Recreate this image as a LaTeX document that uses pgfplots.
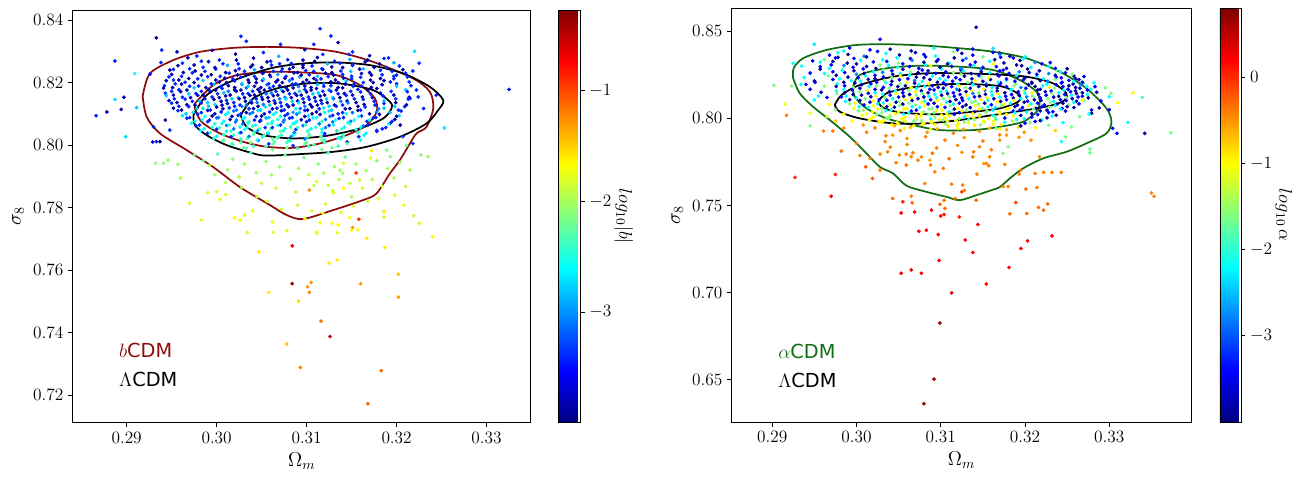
\RequirePackage{fix-cm}
\documentclass[border=0pt]{standalone}
\usepackage{pgfplots}
\pgfplotsset{compat=1.18}
\usepackage{fontspec}
\newfontfamily\dejavu{DejaVu Sans}
\definecolor{bred}{RGB}{140,12,12}
\definecolor{agreen}{RGB}{18,110,18}
\begin{document}
\begin{tikzpicture}
\useasboundingbox (0,0) rectangle (975pt,-361.5pt);
\pgfplotsset{
  myax/.style={
    scale only axis, scaled ticks=false,
    tick align=outside, tick pos=left, major tick length=3.5pt,
    axis line style={line width=0.7pt},
    every tick/.style={black, line width=0.7pt},
    tick label style={font=\fontsize{13}{15}\selectfont},
    label style={font=\fontsize{15}{17}\selectfont},
    xlabel={$\Omega_m$}, ylabel={$\sigma_8$},
    xtick={0.29,0.30,0.31,0.32,0.33},
    xticklabel style={/pgf/number format/fixed,/pgf/number format/fixed zerofill,/pgf/number format/precision=2},
    yticklabel style={/pgf/number format/fixed,/pgf/number format/fixed zerofill,/pgf/number format/precision=2},
    colormap/jet, colorbar,
  },
  myscat/.style={scatter, only marks, mark=*, mark size=1.2pt, point meta=explicit,
    scatter/use mapped color={draw=mapped color, fill=mapped color}},
}
% ================= LEFT PANEL =================
\begin{axis}[myax,
  at={(54.5pt,-317pt)}, anchor=south west, width=343.5pt, height=309.5pt,
  xmin=0.2840, xmax=0.3349, ymin=0.71125, ymax=0.8432,
  ytick={0.72,0.74,0.76,0.78,0.80,0.82,0.84},
  point meta min=-4, point meta max=-0.27,
  colorbar style={at={(parent axis.north east)}, anchor=north west, xshift=12.5pt,
    width=16pt, ytick={-3,-2,-1}, ytick pos=right, tick align=outside, major tick length=3.5pt,
    yticklabel style={font=\fontsize{13}{15}\selectfont},
    ylabel={$log_{10}|b|$},
    ylabel style={rotate=180, at={(axis description cs:3.05,0.5)}, anchor=center, font=\fontsize{14}{16}\selectfont}},
]
\addplot[myscat] coordinates {
(0.3219,0.7774)[-1.9] (0.3225,0.7750)[-1.8] (0.3240,0.7707)[-1.65] (0.3187,0.7673)[-1.6] (0.3167,0.7702)[-1.6]
(0.3084,0.7678)[-0.7] (0.3047,0.7659)[-1.6] (0.3125,0.7623)[-1.6] (0.3134,0.7633)[-1.6] (0.3202,0.7587)[-1.45]
(0.3084,0.7557)[-0.35] (0.3105,0.7561)[-1.3] (0.3101,0.7547)[-1.3] (0.3103,0.7529)[-1.25] (0.3058,0.7529)[-1.6]
(0.3091,0.7501)[-1.55] (0.3160,0.7557)[-1.3] (0.3202,0.7514)[-1.3] (0.3116,0.7437)[-1.15] (0.3126,0.7388)[-0.55]
(0.3078,0.7364)[-1.45] (0.3093,0.7289)[-1.2] (0.3183,0.7279)[-1.15] (0.3168,0.7173)[-1.1] (0.3158,0.7763)[-0.9]
(0.3151,0.7736)[-1.25] (0.3150,0.7729)[-1.65] (0.3157,0.7729)[-1.65] (0.3115,0.7752)[-1.7] (0.3134,0.7720)[-1.8]
(0.3111,0.7718)[-1.8] (0.3078,0.7727)[-1.8] (0.3063,0.7721)[-1.8] (0.3034,0.7720)[-1.85] (0.3186,0.7787)[-1.65]
(0.3186,0.7770)[-1.85]
(0.2866,0.8094)[-3.4] (0.2878,0.8106)[-3.85] (0.2887,0.8269)[-3.4] (0.2887,0.8146)[-2.7] (0.2894,0.8114)[-3.85]
(0.2897,0.8153)[-3.8] (0.2899,0.8027)[-2.7] (0.2909,0.8229)[-2.5] (0.2911,0.8120)[-2.8] (0.2933,0.8343)[-3.85]
(0.2939,0.8304)[-3.4] (0.2938,0.8264)[-3.4] (0.2926,0.8227)[-3.5] (0.2930,0.8058)[-3.4] (0.2933,0.8011)[-3.4]
(0.2929,0.8010)[-3.8] (0.2937,0.8011)[-3.85] (0.2932,0.7942)[-2.1] (0.2941,0.7942)[-2.1] (0.2946,0.7952)[-2.05]
(0.2957,0.7938)[-2.05] (0.2960,0.7895)[-2.0] (0.2970,0.7814)[-1.85] (0.2983,0.7760)[-1.8] (0.2956,0.8298)[-3.85]
(0.2948,0.8240)[-3.85] (0.2952,0.8208)[-3.4] (0.2943,0.8080)[-3.8] (0.2948,0.8048)[-3.4] (0.2990,0.7848)[-1.8]
(0.3000,0.7851)[-1.85] (0.3004,0.7827)[-1.8] (0.3010,0.7842)[-1.85] (0.3020,0.7768)[-1.65] (0.3026,0.7760)[-1.75]
(0.3031,0.7776)[-1.8] (0.3103,0.7856)[-1.25] (0.3027,0.8348)[-3.4] (0.3033,0.8332)[-3.4] (0.3071,0.8322)[-3.4]
(0.3115,0.8372)[-3.4]
(0.3127,0.8349)[-3.4] (0.3135,0.8328)[-3.85] (0.3108,0.8322)[-3.4] (0.3147,0.8290)[-3.4] (0.3191,0.8279)[-3.4]
(0.3220,0.8300)[-2.7] (0.3225,0.8262)[-3.4] (0.3218,0.8237)[-3.4] (0.3200,0.8224)[-3.4] (0.3193,0.8202)[-3.5]
(0.3222,0.8176)[-3.4] (0.3224,0.8154)[-3.4] (0.3215,0.8149)[-3.4] (0.3244,0.8160)[-3.4] (0.3325,0.8178)[-3.5]
(0.3253,0.8055)[-2.7] (0.3230,0.8117)[-3.4] (0.3204,0.8064)[-3.85] (0.3218,0.8005)[-3.4] (0.3207,0.8027)[-3.3]
(0.3227,0.7969)[-2.1] (0.3235,0.7963)[-2.05] (0.3211,0.7999)[-2.2] (0.3189,0.7984)[-2.15] (0.3193,0.7963)[-2.1]
(0.3172,0.7982)[-1.6] (0.3171,0.7959)[-1.8] (0.3141,0.7942)[-1.85] (0.3131,0.7931)[-2.0] (0.3155,0.7911)[-0.95]
(0.3140,0.7910)[-2.05] (0.3137,0.7920)[-2.0] (0.3159,0.7888)[-1.85] (0.3150,0.7835)[-2.0] (0.3141,0.7862)[-1.65]
(0.3130,0.7848)[-1.8] (0.3111,0.7883)[-1.8] (0.3124,0.7872)[-1.9] (0.3186,0.7788)[-1.6] (0.3111,0.7722)[-1.65]
(0.3135,0.7745)[-1.65] (0.3118,0.7782)[-1.7]
(0.2975,0.7968)[-2.2] (0.2992,0.7935)[-2.0] (0.3001,0.7972)[-2.3] (0.3012,0.7921)[-2.0] (0.3018,0.7955)[-2.1]
(0.3025,0.7898)[-1.95] (0.3031,0.7940)[-2.05] (0.3038,0.7975)[-2.3] (0.3044,0.7912)[-2.0] (0.3050,0.7878)[-1.9]
(0.3055,0.7948)[-2.1] (0.3061,0.7905)[-2.0] (0.3066,0.7862)[-1.85] (0.3070,0.7930)[-2.05] (0.3076,0.7968)[-2.25]
(0.3082,0.7891)[-1.95] (0.3088,0.7850)[-1.9] (0.3091,0.7925)[-2.0] (0.3097,0.7960)[-2.2] (0.3102,0.7905)[-1.95]
(0.3108,0.7871)[-1.9] (0.3113,0.7940)[-2.1] (0.3119,0.7910)[-2.0] (0.3124,0.7975)[-2.3] (0.3129,0.7855)[-1.85]
(0.3136,0.7890)[-1.95] (0.3143,0.7962)[-2.2] (0.3148,0.7878)[-1.9] (0.3155,0.7940)[-2.05] (0.3162,0.7862)[-1.85]
(0.3166,0.7918)[-2.0] (0.3173,0.7890)[-1.9] (0.3178,0.7950)[-2.1] (0.3184,0.7868)[-1.85] (0.3190,0.7925)[-2.0]
(0.3197,0.7895)[-1.95] (0.3204,0.7945)[-2.05] (0.3210,0.7868)[-1.9] (0.3215,0.7920)[-2.0] (0.3056,0.7820)[-1.85]
(0.3072,0.7795)[-1.8] (0.3090,0.7808)[-1.85] (0.3106,0.7790)[-1.8] (0.3121,0.7812)[-1.85] (0.3138,0.7785)[-1.75]
(0.3152,0.7805)[-1.8] (0.3168,0.7820)[-1.85] (0.3045,0.7835)[-1.9] (0.3028,0.7865)[-1.95] (0.3010,0.7880)[-1.95]
(0.2998,0.7905)[-2.0] (0.2985,0.7950)[-2.15] (0.3180,0.7830)[-1.8] (0.3198,0.7840)[-1.8] (0.3208,0.7808)[-1.75]
(0.3062,0.7755)[-1.7] (0.3098,0.7765)[-1.75] (0.3128,0.7750)[-1.7] (0.3040,0.7790)[-1.8] (0.3148,0.7768)[-1.7]
(0.2995,0.8303)[-3.85] (0.3052,0.8296)[-3.4] (0.3098,0.8305)[-3.85] (0.3151,0.8298)[-3.4]
(0.2978,0.8285)[-3.4] (0.3021,0.8291)[-3.85] (0.3069,0.8284)[-2.9] (0.3118,0.8290)[-3.4] (0.3170,0.8286)[-3.85]
(0.2968,0.8279)[-3.85] (0.3003,0.8272)[-3.4] (0.3041,0.8278)[-3.85] (0.3079,0.8273)[-3.4] (0.3112,0.8280)[-3.85] (0.3148,0.8274)[-2.9] (0.3186,0.8277)[-3.4]
(0.2962,0.8262)[-3.4] (0.2991,0.8267)[-3.85] (0.3024,0.8260)[-3.4] (0.3056,0.8266)[-3.85] (0.3083,0.8261)[-3.4] (0.3109,0.8268)[-3.85] (0.3137,0.8262)[-3.4] (0.3165,0.8266)[-3.85] (0.3197,0.8263)[-2.9]
(0.2957,0.8254)[-3.85] (0.2985,0.8249)[-3.4] (0.3012,0.8255)[-2.9] (0.3038,0.8250)[-3.85] (0.3061,0.8256)[-3.4] (0.3085,0.8249)[-3.85] (0.3106,0.8253)[-3.4] (0.3128,0.8250)[-3.85] (0.3151,0.8255)[-3.4] (0.3175,0.8249)[-3.85] (0.3203,0.8253)[-3.4]
(0.2952,0.8242)[-3.4] (0.2976,0.8237)[-3.85] (0.2999,0.8243)[-3.4] (0.3021,0.8238)[-3.85] (0.3042,0.8241)[-2.9] (0.3063,0.8236)[-3.4] (0.3081,0.8243)[-3.85] (0.3099,0.8238)[-3.4] (0.3118,0.8242)[-3.85] (0.3138,0.8237)[-3.4] (0.3159,0.8243)[-3.85] (0.3182,0.8239)[-3.4] (0.3207,0.8241)[-3.85]
(0.2950,0.8226)[-3.85] (0.2973,0.8231)[-3.4] (0.2994,0.8225)[-3.85] (0.3014,0.8230)[-3.4] (0.3033,0.8224)[-3.85] (0.3051,0.8229)[-3.4] (0.3068,0.8226)[-2.9] (0.3086,0.8231)[-3.85] (0.3103,0.8225)[-3.4] (0.3121,0.8230)[-3.85] (0.3140,0.8226)[-3.4] (0.3161,0.8229)[-3.85] (0.3184,0.8225)[-3.4] (0.3210,0.8230)[-3.4]
(0.2947,0.8218)[-3.4] (0.2969,0.8213)[-3.85] (0.2990,0.8219)[-3.4] (0.3009,0.8214)[-3.85] (0.3027,0.8217)[-3.4] (0.3044,0.8212)[-3.85] (0.3060,0.8219)[-3.4] (0.3076,0.8214)[-3.85] (0.3092,0.8218)[-2.9] (0.3108,0.8213)[-3.85] (0.3124,0.8219)[-3.4] (0.3141,0.8214)[-3.85] (0.3160,0.8217)[-3.4] (0.3182,0.8213)[-3.85] (0.3212,0.8218)[-3.4]
(0.2944,0.8206)[-3.85] (0.2965,0.8201)[-3.4] (0.2985,0.8207)[-2.8] (0.3003,0.8202)[-3.85] (0.3020,0.8205)[-3.4] (0.3036,0.8200)[-3.85] (0.3051,0.8207)[-3.4] (0.3066,0.8202)[-3.85] (0.3081,0.8206)[-3.1] (0.3096,0.8201)[-3.85] (0.3111,0.8207)[-3.4] (0.3127,0.8202)[-3.85] (0.3144,0.8205)[-2.8] (0.3163,0.8200)[-3.4] (0.3186,0.8206)[-3.85] (0.3214,0.8202)[-3.4]
(0.2942,0.8190)[-3.4] (0.2961,0.8195)[-3.85] (0.2980,0.8189)[-3.4] (0.2997,0.8194)[-2.8] (0.3013,0.8190)[-3.85] (0.3028,0.8195)[-3.4] (0.3042,0.8188)[-3.85] (0.3056,0.8193)[-3.1] (0.3070,0.8190)[-3.85] (0.3084,0.8195)[-3.4] (0.3098,0.8189)[-3.85] (0.3112,0.8194)[-2.8] (0.3127,0.8190)[-3.4] (0.3143,0.8195)[-3.85] (0.3161,0.8189)[-3.4] (0.3184,0.8193)[-3.85] (0.3216,0.8190)[-3.4]
(0.2941,0.8182)[-3.85] (0.2958,0.8177)[-3.4] (0.2975,0.8183)[-2.8] (0.2991,0.8178)[-3.85] (0.3006,0.8181)[-3.4] (0.3020,0.8176)[-3.85] (0.3033,0.8183)[-3.1] (0.3046,0.8178)[-3.85] (0.3059,0.8182)[-3.4] (0.3072,0.8177)[-2.8] (0.3085,0.8183)[-3.85] (0.3098,0.8178)[-3.4] (0.3111,0.8181)[-3.85] (0.3125,0.8176)[-3.1] (0.3140,0.8183)[-3.85] (0.3157,0.8178)[-3.4] (0.3178,0.8181)[-3.85] (0.3210,0.8177)[-2.8]
(0.2943,0.8166)[-3.4] (0.2960,0.8171)[-3.85] (0.2977,0.8165)[-3.4] (0.2993,0.8170)[-3.85] (0.3008,0.8167)[-2.8] (0.3022,0.8172)[-3.85] (0.3035,0.8165)[-3.4] (0.3048,0.8170)[-3.85] (0.3061,0.8166)[-3.1] (0.3074,0.8171)[-3.85] (0.3087,0.8165)[-3.4] (0.3100,0.8170)[-3.85] (0.3113,0.8167)[-2.8] (0.3127,0.8172)[-3.4] (0.3142,0.8165)[-3.85] (0.3160,0.8170)[-3.4] (0.3182,0.8166)[-3.85] (0.3212,0.8171)[-3.4]
(0.2944,0.8158)[-2.8] (0.2962,0.8153)[-3.4] (0.2979,0.8159)[-3.85] (0.2995,0.8154)[-3.4] (0.3010,0.8157)[-3.85] (0.3024,0.8152)[-2.8] (0.3037,0.8159)[-3.85] (0.3050,0.8154)[-3.4] (0.3063,0.8158)[-3.85] (0.3076,0.8153)[-3.1] (0.3089,0.8159)[-3.85] (0.3102,0.8154)[-3.4] (0.3115,0.8157)[-3.85] (0.3129,0.8152)[-2.8] (0.3144,0.8159)[-3.4] (0.3162,0.8154)[-3.85] (0.3185,0.8157)[-3.4] (0.3214,0.8153)[-3.85]
(0.2947,0.8142)[-3.85] (0.2965,0.8147)[-3.4] (0.2981,0.8141)[-2.8] (0.2997,0.8146)[-3.85] (0.3011,0.8143)[-3.4] (0.3025,0.8148)[-3.85] (0.3038,0.8141)[-3.1] (0.3051,0.8146)[-3.85] (0.3064,0.8142)[-3.4] (0.3077,0.8147)[-2.7] (0.3090,0.8141)[-3.85] (0.3103,0.8146)[-3.4] (0.3116,0.8143)[-3.85] (0.3130,0.8148)[-3.1] (0.3145,0.8141)[-3.85] (0.3163,0.8146)[-3.4] (0.3186,0.8142)[-2.8] (0.3213,0.8147)[-3.4]
(0.2950,0.8134)[-3.4] (0.2967,0.8129)[-3.85] (0.2983,0.8135)[-3.4] (0.2998,0.8130)[-2.7] (0.3012,0.8133)[-3.85] (0.3026,0.8128)[-3.4] (0.3039,0.8135)[-3.85] (0.3052,0.8130)[-3.1] (0.3065,0.8134)[-3.85] (0.3078,0.8129)[-3.4] (0.3091,0.8135)[-2.7] (0.3104,0.8130)[-3.85] (0.3117,0.8133)[-3.4] (0.3131,0.8128)[-3.85] (0.3146,0.8135)[-3.1] (0.3164,0.8130)[-3.85] (0.3186,0.8133)[-3.4] (0.3211,0.8129)[-3.85]
(0.2952,0.8118)[-3.85] (0.2969,0.8123)[-3.4] (0.2985,0.8117)[-2.7] (0.3000,0.8122)[-3.85] (0.3014,0.8119)[-3.4] (0.3028,0.8124)[-3.1] (0.3041,0.8117)[-3.85] (0.3054,0.8122)[-2.7] (0.3067,0.8118)[-3.4] (0.3080,0.8123)[-3.85] (0.3093,0.8117)[-3.1] (0.3106,0.8122)[-3.85] (0.3119,0.8119)[-2.7] (0.3133,0.8124)[-3.4] (0.3148,0.8117)[-3.85] (0.3165,0.8122)[-3.4] (0.3186,0.8118)[-2.8] (0.3209,0.8123)[-3.4]
(0.2957,0.8110)[-3.4] (0.2974,0.8105)[-2.7] (0.2990,0.8111)[-3.85] (0.3005,0.8106)[-3.4] (0.3019,0.8109)[-3.1] (0.3033,0.8104)[-3.85] (0.3046,0.8111)[-2.7] (0.3059,0.8106)[-3.4] (0.3072,0.8110)[-3.85] (0.3085,0.8105)[-2.9] (0.3098,0.8111)[-3.4] (0.3111,0.8106)[-3.85] (0.3125,0.8109)[-2.7] (0.3140,0.8104)[-3.4] (0.3157,0.8111)[-3.85] (0.3178,0.8106)[-3.1] (0.3205,0.8109)[-3.4]
(0.2962,0.8094)[-2.7] (0.2979,0.8099)[-3.4] (0.2995,0.8093)[-3.85] (0.3010,0.8098)[-2.6] (0.3024,0.8095)[-3.4] (0.3037,0.8100)[-3.1] (0.3050,0.8093)[-3.85] (0.3063,0.8098)[-2.6] (0.3076,0.8094)[-3.4] (0.3089,0.8099)[-3.1] (0.3102,0.8093)[-2.7] (0.3115,0.8098)[-3.85] (0.3129,0.8095)[-3.4] (0.3144,0.8100)[-2.6] (0.3161,0.8093)[-3.4] (0.3181,0.8098)[-3.85] (0.3203,0.8094)[-2.7]
(0.2967,0.8086)[-3.4] (0.2984,0.8081)[-2.6] (0.3000,0.8087)[-3.1] (0.3015,0.8082)[-3.85] (0.3029,0.8085)[-2.6] (0.3042,0.8080)[-3.4] (0.3055,0.8087)[-2.9] (0.3068,0.8082)[-2.5] (0.3081,0.8086)[-3.4] (0.3094,0.8081)[-3.85] (0.3107,0.8087)[-2.6] (0.3121,0.8082)[-3.1] (0.3136,0.8085)[-3.4] (0.3153,0.8080)[-2.6] (0.3174,0.8087)[-3.4] (0.3198,0.8082)[-3.85]
(0.2972,0.8070)[-2.6] (0.2990,0.8075)[-3.4] (0.3006,0.8069)[-2.5] (0.3021,0.8074)[-3.1] (0.3035,0.8071)[-2.6] (0.3048,0.8076)[-3.85] (0.3061,0.8069)[-2.5] (0.3074,0.8074)[-3.1] (0.3087,0.8070)[-2.6] (0.3100,0.8075)[-3.4] (0.3114,0.8069)[-2.5] (0.3129,0.8074)[-3.1] (0.3146,0.8071)[-2.6] (0.3167,0.8076)[-3.4] (0.3193,0.8070)[-3.85]
(0.2977,0.8062)[-3.4] (0.2995,0.8057)[-2.5] (0.3011,0.8063)[-3.1] (0.3026,0.8058)[-2.6] (0.3040,0.8061)[-2.4] (0.3054,0.8056)[-3.4] (0.3068,0.8063)[-2.6] (0.3082,0.8058)[-2.4] (0.3096,0.8062)[-3.1] (0.3110,0.8057)[-2.5] (0.3125,0.8063)[-3.4] (0.3142,0.8058)[-2.6] (0.3163,0.8061)[-3.1] (0.3188,0.8056)[-3.4]
(0.2982,0.8046)[-2.6] (0.3000,0.8051)[-3.4] (0.3016,0.8045)[-2.4] (0.3031,0.8050)[-2.6] (0.3046,0.8047)[-3.1] (0.3060,0.8052)[-2.4] (0.3074,0.8045)[-2.6] (0.3088,0.8050)[-3.4] (0.3102,0.8046)[-2.4] (0.3117,0.8051)[-2.6] (0.3134,0.8045)[-3.1] (0.3155,0.8050)[-2.5] (0.3178,0.8047)[-3.4]
(0.2990,0.8038)[-3.4] (0.3008,0.8033)[-2.4] (0.3025,0.8039)[-2.6] (0.3041,0.8034)[-2.3] (0.3057,0.8037)[-3.1] (0.3072,0.8032)[-2.4] (0.3087,0.8039)[-2.6] (0.3103,0.8034)[-2.3] (0.3120,0.8037)[-3.4] (0.3140,0.8032)[-2.5] (0.3166,0.8038)[-2.6]
(0.2997,0.8022)[-2.5] (0.3016,0.8027)[-3.4] (0.3034,0.8021)[-2.3] (0.3051,0.8026)[-2.5] (0.3067,0.8023)[-2.3] (0.3083,0.8028)[-3.1] (0.3099,0.8021)[-2.4] (0.3116,0.8026)[-2.3] (0.3135,0.8023)[-2.6] (0.3158,0.8027)[-3.4]
(0.3007,0.8014)[-2.4] (0.3027,0.8009)[-2.3] (0.3046,0.8015)[-3.4] (0.3064,0.8010)[-2.3] (0.3082,0.8013)[-2.4] (0.3100,0.8008)[-2.3] (0.3120,0.8015)[-2.5] (0.3145,0.8010)[-3.4]
(0.3018,0.8002)[-2.3] (0.3041,0.7997)[-2.4] (0.3063,0.8003)[-2.2] (0.3085,0.7998)[-3.4] (0.3108,0.8001)[-2.3] (0.3135,0.7997)[-2.4]
(0.3033,0.7990)[-2.3] (0.3062,0.7985)[-2.2] (0.3090,0.7989)[-2.3] (0.3117,0.7986)[-2.2]
};
\addplot[myscat] coordinates {
(0.2983,0.8268)[-3.4] (0.3022,0.8272)[-3.85] (0.3060,0.8268)[-3.4] (0.3096,0.8272)[-3.85] (0.3131,0.8268)[-3.4] (0.3168,0.8272)[-3.85]
(0.2975,0.8256)[-3.85] (0.3007,0.8260)[-3.4] (0.3040,0.8256)[-3.85] (0.3070,0.8260)[-3.4] (0.3096,0.8256)[-3.85] (0.3123,0.8260)[-2.8] (0.3151,0.8256)[-3.4] (0.3181,0.8260)[-3.85]
(0.2970,0.8244)[-3.4] (0.2998,0.8248)[-3.85] (0.3025,0.8244)[-3.4] (0.3050,0.8248)[-3.85] (0.3073,0.8244)[-3.4] (0.3096,0.8248)[-3.85] (0.3117,0.8244)[-3.4] (0.3140,0.8248)[-3.85] (0.3163,0.8244)[-2.8] (0.3189,0.8248)[-3.4]
(0.2963,0.8232)[-3.85] (0.2987,0.8236)[-3.4] (0.3010,0.8232)[-3.85] (0.3031,0.8236)[-3.4] (0.3052,0.8232)[-3.85] (0.3072,0.8236)[-3.4] (0.3090,0.8232)[-3.85] (0.3108,0.8236)[-3.4] (0.3128,0.8232)[-3.85] (0.3149,0.8236)[-2.8] (0.3170,0.8232)[-3.85] (0.3195,0.8236)[-3.4]
(0.2961,0.8220)[-3.4] (0.2983,0.8224)[-3.85] (0.3004,0.8220)[-3.4] (0.3023,0.8224)[-3.85] (0.3042,0.8220)[-3.4] (0.3059,0.8224)[-3.85] (0.3077,0.8220)[-3.4] (0.3094,0.8224)[-3.85] (0.3112,0.8220)[-2.8] (0.3130,0.8224)[-3.85] (0.3150,0.8220)[-3.4] (0.3172,0.8224)[-3.85] (0.3197,0.8220)[-3.4]
(0.2958,0.8208)[-3.85] (0.2979,0.8212)[-3.4] (0.2999,0.8208)[-3.85] (0.3018,0.8212)[-3.4] (0.3035,0.8208)[-3.85] (0.3052,0.8212)[-2.8] (0.3068,0.8208)[-3.85] (0.3084,0.8212)[-3.4] (0.3100,0.8208)[-3.85] (0.3116,0.8212)[-3.4] (0.3132,0.8208)[-3.85] (0.3150,0.8212)[-3.4] (0.3171,0.8208)[-3.85] (0.3197,0.8212)[-3.4]
(0.2954,0.8196)[-3.4] (0.2975,0.8200)[-3.85] (0.2994,0.8196)[-3.4] (0.3011,0.8200)[-3.85] (0.3028,0.8196)[-2.8] (0.3044,0.8200)[-3.85] (0.3058,0.8196)[-3.4] (0.3073,0.8200)[-3.85] (0.3088,0.8196)[-3.4] (0.3103,0.8200)[-3.85] (0.3119,0.8196)[-3.1] (0.3135,0.8200)[-3.85] (0.3153,0.8196)[-3.4] (0.3174,0.8200)[-3.85] (0.3200,0.8196)[-3.4]
(0.2951,0.8184)[-3.85] (0.2970,0.8188)[-3.4] (0.2988,0.8184)[-3.85] (0.3005,0.8188)[-3.4] (0.3020,0.8184)[-3.85] (0.3035,0.8188)[-2.8] (0.3049,0.8184)[-3.85] (0.3063,0.8188)[-3.4] (0.3077,0.8184)[-3.85] (0.3091,0.8188)[-3.1] (0.3105,0.8184)[-3.85] (0.3119,0.8188)[-3.4] (0.3135,0.8184)[-3.85] (0.3152,0.8188)[-3.4] (0.3172,0.8184)[-3.85] (0.3200,0.8188)[-2.8]
(0.2950,0.8172)[-3.4] (0.2967,0.8176)[-3.85] (0.2983,0.8172)[-3.4] (0.2999,0.8176)[-3.85] (0.3013,0.8172)[-3.1] (0.3027,0.8176)[-3.85] (0.3040,0.8172)[-3.4] (0.3053,0.8176)[-3.85] (0.3066,0.8172)[-3.4] (0.3079,0.8176)[-3.85] (0.3092,0.8172)[-2.8] (0.3105,0.8176)[-3.85] (0.3118,0.8172)[-3.4] (0.3133,0.8176)[-3.85] (0.3149,0.8172)[-3.4] (0.3168,0.8176)[-3.85] (0.3194,0.8172)[-3.4]
(0.2952,0.8160)[-3.85] (0.2969,0.8164)[-2.8] (0.2985,0.8160)[-3.85] (0.3001,0.8164)[-3.4] (0.3015,0.8160)[-3.85] (0.3029,0.8164)[-3.4] (0.3042,0.8160)[-3.85] (0.3055,0.8164)[-3.1] (0.3068,0.8160)[-3.85] (0.3081,0.8164)[-3.4] (0.3094,0.8160)[-3.85] (0.3107,0.8164)[-2.8] (0.3120,0.8160)[-3.85] (0.3135,0.8164)[-3.4] (0.3151,0.8160)[-3.85] (0.3171,0.8164)[-3.4] (0.3197,0.8160)[-3.85]
(0.2953,0.8148)[-3.4] (0.2971,0.8152)[-3.85] (0.2987,0.8148)[-3.4] (0.3003,0.8152)[-3.85] (0.3017,0.8148)[-2.8] (0.3031,0.8152)[-3.85] (0.3044,0.8148)[-3.4] (0.3057,0.8152)[-3.85] (0.3070,0.8148)[-3.1] (0.3083,0.8152)[-3.85] (0.3096,0.8148)[-3.4] (0.3109,0.8152)[-3.85] (0.3122,0.8148)[-2.8] (0.3137,0.8152)[-3.85] (0.3153,0.8148)[-3.4] (0.3173,0.8152)[-3.85] (0.3199,0.8148)[-3.4]
(0.2956,0.8136)[-3.85] (0.2973,0.8140)[-3.4] (0.2990,0.8136)[-2.8] (0.3005,0.8140)[-3.85] (0.3019,0.8136)[-3.4] (0.3032,0.8140)[-3.85] (0.3045,0.8136)[-3.1] (0.3058,0.8140)[-3.85] (0.3071,0.8136)[-3.4] (0.3084,0.8140)[-2.8] (0.3097,0.8136)[-3.85] (0.3110,0.8140)[-3.4] (0.3123,0.8136)[-3.85] (0.3138,0.8140)[-3.1] (0.3155,0.8136)[-3.85] (0.3175,0.8140)[-3.4] (0.3199,0.8136)[-3.85]
(0.2958,0.8124)[-3.4] (0.2976,0.8128)[-3.85] (0.2991,0.8124)[-2.8] (0.3006,0.8128)[-3.85] (0.3020,0.8124)[-3.4] (0.3033,0.8128)[-3.1] (0.3046,0.8124)[-3.85] (0.3059,0.8128)[-2.8] (0.3072,0.8124)[-3.4] (0.3085,0.8128)[-3.85] (0.3098,0.8124)[-3.1] (0.3112,0.8128)[-3.85] (0.3125,0.8124)[-2.8] (0.3140,0.8128)[-3.4] (0.3157,0.8124)[-3.85] (0.3176,0.8128)[-3.4] (0.3198,0.8124)[-2.8]
(0.2961,0.8112)[-3.85] (0.2978,0.8116)[-2.8] (0.2993,0.8112)[-3.4] (0.3007,0.8116)[-3.85] (0.3022,0.8112)[-3.1] (0.3036,0.8116)[-3.4] (0.3049,0.8112)[-2.8] (0.3062,0.8116)[-3.85] (0.3075,0.8112)[-3.4] (0.3088,0.8116)[-2.6] (0.3101,0.8112)[-3.85] (0.3114,0.8116)[-3.4] (0.3128,0.8112)[-2.8] (0.3143,0.8116)[-3.85] (0.3160,0.8112)[-3.4] (0.3180,0.8116)[-3.1] (0.3202,0.8112)[-3.4]
(0.2966,0.8100)[-2.8] (0.2983,0.8104)[-3.4] (0.2998,0.8100)[-3.85] (0.3013,0.8104)[-2.6] (0.3027,0.8100)[-3.4] (0.3040,0.8104)[-3.1] (0.3053,0.8100)[-3.85] (0.3066,0.8104)[-2.6] (0.3079,0.8100)[-3.4] (0.3092,0.8104)[-2.8] (0.3106,0.8100)[-3.85] (0.3120,0.8104)[-2.6] (0.3135,0.8100)[-3.4] (0.3151,0.8104)[-3.1] (0.3170,0.8100)[-3.85] (0.3193,0.8104)[-2.8]
(0.2970,0.8088)[-3.4] (0.2987,0.8092)[-2.6] (0.3002,0.8088)[-3.1] (0.3017,0.8092)[-3.85] (0.3031,0.8088)[-2.6] (0.3044,0.8092)[-3.4] (0.3058,0.8088)[-2.8] (0.3071,0.8092)[-2.6] (0.3084,0.8088)[-3.4] (0.3098,0.8092)[-3.85] (0.3111,0.8088)[-2.6] (0.3126,0.8092)[-3.1] (0.3141,0.8088)[-3.4] (0.3158,0.8092)[-2.6] (0.3177,0.8088)[-3.4] (0.3200,0.8092)[-3.85]
(0.2976,0.8076)[-2.6] (0.2992,0.8080)[-3.4] (0.3008,0.8076)[-2.6] (0.3022,0.8080)[-3.1] (0.3036,0.8076)[-2.4] (0.3049,0.8080)[-3.4] (0.3062,0.8076)[-2.6] (0.3075,0.8080)[-3.1] (0.3089,0.8076)[-2.6] (0.3103,0.8080)[-3.4] (0.3117,0.8076)[-2.4] (0.3132,0.8080)[-2.6] (0.3149,0.8076)[-3.1] (0.3170,0.8080)[-2.6] (0.3195,0.8076)[-3.4]
(0.2981,0.8064)[-3.4] (0.2998,0.8068)[-2.6] (0.3014,0.8064)[-2.4] (0.3029,0.8068)[-3.1] (0.3043,0.8064)[-2.6] (0.3057,0.8068)[-2.4] (0.3071,0.8064)[-3.4] (0.3085,0.8068)[-2.6] (0.3099,0.8064)[-2.4] (0.3114,0.8068)[-3.1] (0.3130,0.8064)[-2.6] (0.3148,0.8068)[-2.4] (0.3168,0.8064)[-3.4] (0.3191,0.8068)[-2.6]
(0.2986,0.8052)[-2.6] (0.3003,0.8056)[-2.4] (0.3019,0.8052)[-3.1] (0.3034,0.8056)[-2.6] (0.3048,0.8052)[-2.4] (0.3062,0.8056)[-3.4] (0.3076,0.8052)[-2.6] (0.3090,0.8056)[-2.4] (0.3105,0.8052)[-2.6] (0.3121,0.8056)[-3.1] (0.3139,0.8052)[-2.4] (0.3160,0.8056)[-2.6] (0.3184,0.8052)[-3.4]
(0.2993,0.8040)[-2.4] (0.3011,0.8044)[-2.6] (0.3027,0.8040)[-3.4] (0.3042,0.8044)[-2.4] (0.3057,0.8040)[-2.6] (0.3071,0.8044)[-2.2] (0.3086,0.8040)[-3.1] (0.3101,0.8044)[-2.4] (0.3117,0.8040)[-2.6] (0.3135,0.8044)[-2.2] (0.3157,0.8040)[-2.4] (0.3178,0.8044)[-3.4]
(0.3000,0.8028)[-2.6] (0.3019,0.8032)[-2.4] (0.3036,0.8028)[-3.1] (0.3053,0.8032)[-2.2] (0.3069,0.8028)[-2.4] (0.3085,0.8032)[-2.6] (0.3102,0.8028)[-2.2] (0.3120,0.8032)[-3.4] (0.3141,0.8028)[-2.4] (0.3164,0.8032)[-2.6]
(0.3008,0.8016)[-2.2] (0.3027,0.8020)[-2.4] (0.3045,0.8016)[-2.6] (0.3062,0.8020)[-2.2] (0.3080,0.8016)[-2.4] (0.3098,0.8020)[-3.1] (0.3117,0.8016)[-2.2] (0.3138,0.8020)[-2.4] (0.3160,0.8016)[-2.6]
(0.3017,0.8004)[-2.4] (0.3038,0.8008)[-2.2] (0.3058,0.8004)[-3.4] (0.3078,0.8008)[-2.4] (0.3098,0.8004)[-2.2] (0.3120,0.8008)[-2.4] (0.3145,0.8004)[-2.2]
(0.3030,0.7992)[-2.2] (0.3055,0.7996)[-2.4] (0.3078,0.7992)[-2.2] (0.3102,0.7996)[-2.4] (0.3128,0.7992)[-2.2]
};
\addplot[draw=bred, line width=1.3pt, smooth, mark=none] coordinates {
(0.29178,0.81565) (0.29259,0.82291) (0.29518,0.82716) (0.29814,0.82981) (0.30184,0.83109) (0.30556,0.83141)
(0.30926,0.83109) (0.31333,0.82981) (0.31740,0.82661) (0.32184,0.82131) (0.32370,0.81703) (0.32407,0.81173)
(0.32333,0.80585) (0.32222,0.80374) (0.32148,0.80054) (0.32037,0.79521) (0.31926,0.79096) (0.31778,0.78457)
(0.31629,0.78243) (0.31296,0.77923) (0.30959,0.77636) (0.30778,0.77764) (0.30592,0.78083) (0.30259,0.78658)
(0.29962,0.79297) (0.29667,0.79840) (0.29370,0.80374) (0.29222,0.80904) (0.29178,0.81565)};
\addplot[draw=bred, line width=1.3pt, smooth, mark=none] coordinates {
(0.29759,0.81332) (0.29962,0.81917) (0.30222,0.82236) (0.30592,0.82342) (0.30962,0.82323) (0.31333,0.82236)
(0.31592,0.81917) (0.31759,0.81492) (0.31778,0.81064) (0.31667,0.80639) (0.31444,0.80319) (0.31148,0.80054)
(0.30851,0.79914) (0.30556,0.79946) (0.30296,0.80105) (0.30037,0.80374) (0.29833,0.80744) (0.29759,0.81173)
(0.29759,0.81332)};
\addplot[draw=black, line width=1.3pt, smooth, mark=none] coordinates {
(0.29742,0.80958) (0.29889,0.81597) (0.30148,0.82022) (0.30592,0.82450) (0.30962,0.82610) (0.31333,0.82642)
(0.31703,0.82556) (0.32073,0.82291) (0.32370,0.81863) (0.32518,0.81438) (0.32462,0.81118) (0.32333,0.80693)
(0.32037,0.80265) (0.31667,0.79946) (0.31296,0.79786) (0.30926,0.79712) (0.30556,0.79665) (0.30407,0.79735)
(0.30111,0.80000) (0.29889,0.80319) (0.29759,0.80639) (0.29742,0.80958)};
\addplot[draw=black, line width=1.3pt, smooth, mark=none] coordinates {
(0.30267,0.80958) (0.30407,0.81492) (0.30667,0.81812) (0.31000,0.81971) (0.31370,0.81971) (0.31740,0.81757)
(0.31926,0.81383) (0.31944,0.81173) (0.31851,0.80853) (0.31592,0.80534) (0.31222,0.80297) (0.30851,0.80214)
(0.30518,0.80319) (0.30333,0.80585) (0.30267,0.80958)};
\node[anchor=base west, inner sep=0pt, text=bred, font=\fontsize{14.5}{17}\selectfont] at (rel axis cs:0.101,0.157) {$b${\dejavu CDM}};
\node[anchor=base west, inner sep=0pt, text=black, font=\fontsize{14.5}{17}\selectfont] at (rel axis cs:0.101,0.0865) {$\Lambda${\dejavu CDM}};
\end{axis}
% ================= RIGHT PANEL =================
\begin{axis}[myax,
  at={(548.8pt,-316.5pt)}, anchor=south west, width=344.5pt, height=310.3pt,
  xmin=0.2852, xmax=0.3397, ymin=0.6257, ymax=0.8632,
  ytick={0.65,0.70,0.75,0.80,0.85},
  point meta min=-4, point meta max=0.8,
  colorbar style={at={(parent axis.north east)}, anchor=north west, xshift=13pt,
    width=15.75pt, ytick={-3,-2,-1,0}, ytick pos=right, tick align=outside, major tick length=3.5pt,
    yticklabel style={font=\fontsize{13}{15}\selectfont},
    ylabel={$log_{10}\,\alpha$},
    ylabel style={rotate=180, at={(axis description cs:3.05,0.5)}, anchor=center, font=\fontsize{14}{16}\selectfont}},
]
\addplot[myscat] coordinates {
(0.2950,0.8425)[-2.3] (0.2925,0.8316)[-2.2] (0.2902,0.8190)[-1.6] (0.2923,0.8186)[-1.6] (0.2915,0.8082)[-1.0]
(0.2917,0.8017)[-0.4] (0.2934,0.8195)[-2.2] (0.2940,0.8195)[-3.4] (0.2945,0.7957)[-1.6] (0.2945,0.8167)[-3.4]
(0.2951,0.8207)[-3.4] (0.2955,0.8128)[-2.2] (0.2945,0.8030)[-1.0] (0.2961,0.7927)[-0.4] (0.2972,0.7927)[-0.4]
(0.2982,0.7812)[-0.3] (0.2975,0.7678)[0.0] (0.2970,0.7553)[0.2] (0.2927,0.7661)[0.0] (0.3000,0.7856)[-0.4]
(0.3004,0.7787)[-0.4] (0.3016,0.7770)[-0.4] (0.3011,0.7722)[-0.2] (0.3019,0.7655)[-0.2] (0.3028,0.7703)[-0.4]
(0.3028,0.7795)[-0.4] (0.3037,0.7808)[-0.4] (0.3034,0.7866)[-0.4] (0.3043,0.7904)[-0.5] (0.3051,0.7789)[-0.4]
(0.3047,0.7745)[-0.4] (0.3059,0.7795)[-0.4] (0.3067,0.7802)[-0.4] (0.3059,0.7732)[-0.3] (0.3073,0.7760)[-0.4]
(0.3077,0.7779)[-0.4] (0.3087,0.7760)[-0.6] (0.3088,0.7732)[-0.4] (0.3103,0.7713)[-0.4] (0.3081,0.7626)[-0.4]
(0.3093,0.7693)[-0.4] (0.3113,0.7622)[-0.4] (0.3126,0.7617)[-0.4] (0.3125,0.7578)[-0.1] (0.3117,0.7540)[-0.3]
(0.3043,0.7540)[-0.3] (0.3055,0.7521)[0.1] (0.3053,0.7457)[0.2] (0.3069,0.7463)[0.2] (0.3066,0.7515)[-0.3]
(0.3089,0.7473)[0.2] (0.3105,0.7483)[-0.3] (0.3100,0.7440)[0.2] (0.3122,0.7434)[0.1] (0.3074,0.7352)[0.2]
(0.3083,0.7358)[0.2] (0.3097,0.7333)[0.2] (0.3065,0.7553)[-0.4] (0.3128,0.7586)[-0.4] (0.3104,0.7530)[-0.3]
(0.3099,0.7507)[-0.3] (0.3142,0.7530)[-0.3] (0.3104,0.7448)[0.1] (0.3174,0.7609)[-0.4] (0.3180,0.7609)[-0.4]
(0.3201,0.7594)[-0.3] (0.3214,0.7603)[-0.4] (0.3189,0.7517)[-0.1] (0.3182,0.7452)[-0.3] (0.3202,0.7454)[-0.3]
(0.3216,0.7489)[-0.3] (0.3222,0.7473)[-0.3] (0.3227,0.7509)[-0.3] (0.3144,0.7391)[0.2] (0.3129,0.7302)[0.2]
(0.3138,0.7230)[0.2] (0.3098,0.7184)[0.2] (0.3053,0.7111)[0.2] (0.3065,0.7130)[0.2] (0.3077,0.7111)[0.2]
(0.3181,0.7144)[0.2] (0.3154,0.7049)[0.2] (0.3113,0.6998)[0.3] (0.3195,0.7253)[0.2] (0.3203,0.7297)[0.2]
(0.3232,0.7325)[0.2] (0.3099,0.6825)[0.6] (0.3092,0.6503)[0.65] (0.3080,0.6362)[0.7]
(0.3142,0.8523)[-3.85] (0.3162,0.8402)[-2.3] (0.3171,0.8351)[-3.4] (0.3283,0.8182)[-3.4] (0.3279,0.8048)[-3.4]
(0.3279,0.8029)[-3.85] (0.3302,0.8144)[-1.6] (0.3300,0.8124)[-2.2] (0.3304,0.7943)[-3.4] (0.3309,0.7914)[-3.4]
(0.3322,0.7977)[-2.2] (0.3328,0.8147)[-1.0] (0.3339,0.8121)[-1.8] (0.3342,0.7914)[-3.85] (0.3373,0.7917)[-1.6]
(0.3277,0.7824)[-1.7] (0.3277,0.7802)[-1.7] (0.3248,0.7894)[-1.7] (0.3243,0.7866)[-2.2] (0.3350,0.7572)[-0.4]
(0.3353,0.7553)[-0.4] (0.3243,0.7690)[-0.4] (0.3232,0.7690)[-0.4] (0.3222,0.7690)[-0.4] (0.3217,0.7779)[-0.4]
(0.3212,0.7684)[-0.4] (0.3195,0.7703)[-0.4] (0.3193,0.7680)[-0.4] (0.3176,0.7736)[-0.4] (0.3157,0.7728)[-0.4]
(0.3154,0.7741)[-0.4] (0.3151,0.7741)[-0.5] (0.3143,0.7680)[-0.4] (0.3139,0.7808)[-0.4] (0.3138,0.7779)[-0.4]
(0.3146,0.7837)[-0.4] (0.3158,0.7779)[-0.4] (0.3180,0.7837)[-1.6] (0.3174,0.7799)[-1.6] (0.3170,0.7875)[-0.5]
(0.3207,0.7875)[-0.5] (0.3193,0.7891)[-0.5] (0.3166,0.7943)[-1.6] (0.3178,0.7904)[-0.5] (0.3028,0.8454)[-3.4]
(0.2995,0.7985)[-1.0] (0.3008,0.7962)[-0.5] (0.3015,0.7990)[-1.2] (0.3022,0.7945)[-0.4] (0.3030,0.7975)[-0.9]
(0.3038,0.7998)[-1.6] (0.3045,0.7958)[-0.6] (0.3052,0.7930)[-0.4] (0.3058,0.7982)[-1.1] (0.3064,0.7948)[-0.7]
(0.3071,0.7995)[-1.5] (0.3078,0.7965)[-0.9] (0.3084,0.7920)[-0.5] (0.3090,0.7978)[-1.2] (0.3096,0.7940)[-0.6]
(0.3103,0.7990)[-1.6] (0.3109,0.7955)[-0.8] (0.3115,0.7915)[-0.4] (0.3121,0.7972)[-1.1] (0.3127,0.7938)[-0.6]
(0.3133,0.7992)[-1.8] (0.3140,0.7960)[-0.9] (0.3146,0.7925)[-0.5] (0.3152,0.7980)[-1.2] (0.3158,0.7945)[-0.7]
(0.3165,0.7995)[-2.2] (0.3172,0.7965)[-1.0] (0.3178,0.7935)[-0.6] (0.3185,0.7985)[-1.4] (0.3192,0.7950)[-0.8]
(0.3199,0.7920)[-0.5] (0.3206,0.7975)[-1.6] (0.3213,0.7945)[-1.0] (0.3220,0.7990)[-2.2] (0.3228,0.7960)[-1.6]
(0.3236,0.7930)[-0.8] (0.3245,0.7975)[-2.2] (0.3255,0.7950)[-1.6] (0.3012,0.7920)[-0.4] (0.3035,0.7900)[-0.4]
(0.3060,0.7885)[-0.5] (0.3082,0.7895)[-0.4] (0.3105,0.7875)[-0.4] (0.3128,0.7890)[-0.5] (0.3150,0.7870)[-0.4]
(0.3170,0.7905)[-0.4] (0.3060,0.7850)[-0.4] (0.3095,0.7830)[-0.4] (0.3120,0.7845)[-0.4] (0.3040,0.7835)[-0.4]
(0.3160,0.7820)[-0.4] (0.3125,0.7805)[-0.5] (0.3090,0.7800)[-0.3] (0.3065,0.7780)[-0.4] (0.3110,0.7768)[-0.3]
(0.2985,0.7945)[-0.5] (0.2975,0.7985)[-0.8] (0.2965,0.8010)[-1.2]
(0.2945,0.8260)[-3.4] (0.2938,0.8235)[-2.2] (0.2950,0.8215)[-3.85] (0.2962,0.8185)[-1.6] (0.2958,0.8150)[-3.85]
(0.2950,0.8105)[-2.2] (0.2965,0.8120)[-3.4] (0.2968,0.8080)[-1.0] (0.2935,0.8300)[-2.2] (0.2948,0.8330)[-3.4]
(0.2975,0.8050)[-1.6] (0.2985,0.8025)[-1.0] (0.2978,0.8350)[-3.85]
(0.3285,0.8150)[-3.85] (0.3290,0.8100)[-3.4] (0.3282,0.8205)[-2.2] (0.3295,0.8175)[-1.6] (0.3270,0.8240)[-3.4]
(0.3288,0.8060)[-3.85] (0.3300,0.8050)[-3.4] (0.3276,0.8025)[-2.2] (0.3265,0.8010)[-1.6] (0.3310,0.8090)[-1.0]
(0.3250,0.8285)[-3.85] (0.3230,0.8320)[-3.4] (0.3200,0.8355)[-2.2] (0.3170,0.8375)[-3.85]
(0.2992,0.8404)[-3.4] (0.3040,0.8397)[-3.85] (0.3092,0.8403)[-2.2] (0.3138,0.8398)[-3.4]
(0.2978,0.8377)[-2.2] (0.3025,0.8384)[-3.4] (0.3070,0.8378)[-3.85] (0.3115,0.8383)[-1.6] (0.3162,0.8379)[-3.4]
(0.2968,0.8363)[-3.4] (0.3009,0.8357)[-2.8] (0.3051,0.8364)[-3.85] (0.3094,0.8358)[-2.2] (0.3138,0.8363)[-3.4] (0.3182,0.8357)[-3.85]
(0.2962,0.8338)[-1.6] (0.2997,0.8344)[-3.4] (0.3031,0.8337)[-2.2] (0.3064,0.8343)[-3.85] (0.3097,0.8338)[-3.4] (0.3130,0.8344)[-2.8] (0.3164,0.8337)[-3.85] (0.3198,0.8342)[-2.2]
(0.2957,0.8323)[-2.2] (0.2989,0.8317)[-3.85] (0.3020,0.8324)[-3.4] (0.3050,0.8318)[-1.6] (0.3080,0.8322)[-3.85] (0.3110,0.8317)[-2.2] (0.3141,0.8323)[-3.4] (0.3175,0.8318)[-3.85] (0.3212,0.8322)[-2.8]
(0.2957,0.8297)[-3.4] (0.2985,0.8303)[-2.8] (0.3012,0.8298)[-3.85] (0.3038,0.8304)[-2.2] (0.3063,0.8297)[-3.4] (0.3088,0.8302)[-1.0] (0.3113,0.8298)[-3.85] (0.3139,0.8303)[-2.2] (0.3166,0.8297)[-3.4] (0.3196,0.8302)[-3.85] (0.3228,0.8298)[-2.2]
(0.2957,0.8283)[-3.85] (0.2983,0.8277)[-2.2] (0.3008,0.8284)[-3.4] (0.3032,0.8278)[-1.6] (0.3055,0.8282)[-3.85] (0.3078,0.8277)[-3.4] (0.3101,0.8283)[-2.2] (0.3124,0.8278)[-3.85] (0.3148,0.8282)[-2.8] (0.3174,0.8277)[-3.4] (0.3203,0.8283)[-3.85] (0.3237,0.8278)[-1.6]
(0.2962,0.8257)[-2.2] (0.2986,0.8263)[-3.4] (0.3009,0.8258)[-3.85] (0.3031,0.8264)[-2.8] (0.3052,0.8257)[-2.2] (0.3073,0.8262)[-3.85] (0.3094,0.8258)[-3.4] (0.3115,0.8263)[-1.6] (0.3136,0.8257)[-3.85] (0.3158,0.8262)[-2.2] (0.3181,0.8258)[-3.4] (0.3205,0.8263)[-3.85] (0.3228,0.8257)[-2.8] (0.3248,0.8262)[-3.4]
(0.2967,0.8243)[-1.6] (0.2990,0.8237)[-3.85] (0.3011,0.8244)[-2.2] (0.3032,0.8238)[-3.4] (0.3052,0.8242)[-1.0] (0.3071,0.8237)[-3.85] (0.3090,0.8243)[-2.2] (0.3109,0.8238)[-3.4] (0.3128,0.8242)[-3.85] (0.3148,0.8237)[-1.6] (0.3169,0.8243)[-3.4] (0.3191,0.8238)[-3.85] (0.3214,0.8242)[-2.2] (0.3237,0.8237)[-3.4] (0.3258,0.8243)[-3.85]
(0.2972,0.8223)[-3.4] (0.2994,0.8217)[-2.2] (0.3014,0.8224)[-3.85] (0.3033,0.8218)[-1.6] (0.3051,0.8222)[-3.4] (0.3069,0.8217)[-2.8] (0.3087,0.8223)[-3.85] (0.3105,0.8218)[-2.2] (0.3123,0.8222)[-3.4] (0.3141,0.8217)[-1.0] (0.3159,0.8223)[-3.85] (0.3178,0.8218)[-2.2] (0.3198,0.8222)[-3.4] (0.3218,0.8217)[-3.85] (0.3236,0.8223)[-1.6] (0.3252,0.8218)[-3.4] (0.3264,0.8222)[-3.85]
(0.2977,0.8197)[-2.2] (0.2998,0.8203)[-3.85] (0.3017,0.8198)[-3.4] (0.3035,0.8204)[-2.2] (0.3052,0.8197)[-1.6] (0.3069,0.8202)[-3.85] (0.3086,0.8198)[-1.0] (0.3103,0.8203)[-3.4] (0.3120,0.8197)[-2.2] (0.3137,0.8202)[-3.85] (0.3154,0.8198)[-2.8] (0.3171,0.8203)[-3.4] (0.3189,0.8197)[-1.6] (0.3208,0.8202)[-3.85] (0.3226,0.8198)[-2.2] (0.3243,0.8203)[-3.4] (0.3257,0.8197)[-3.85] (0.3269,0.8202)[-2.2]
(0.2976,0.8183)[-3.85] (0.2996,0.8177)[-1.6] (0.3015,0.8184)[-2.2] (0.3032,0.8178)[-3.4] (0.3049,0.8182)[-3.85] (0.3065,0.8177)[-1.0] (0.3081,0.8183)[-2.2] (0.3097,0.8178)[-3.85] (0.3113,0.8182)[-3.4] (0.3129,0.8177)[-1.6] (0.3145,0.8183)[-3.85] (0.3161,0.8178)[-2.2] (0.3178,0.8182)[-3.4] (0.3195,0.8177)[-2.8] (0.3212,0.8183)[-3.85] (0.3229,0.8178)[-1.0] (0.3245,0.8182)[-3.4] (0.3260,0.8177)[-3.85] (0.3273,0.8183)[-2.2]
(0.2976,0.8157)[-2.2] (0.2995,0.8163)[-3.4] (0.3013,0.8158)[-1.0] (0.3030,0.8164)[-3.85] (0.3046,0.8157)[-2.2] (0.3062,0.8162)[-1.6] (0.3077,0.8158)[-3.85] (0.3092,0.8163)[-3.4] (0.3107,0.8157)[-2.2] (0.3122,0.8162)[-3.85] (0.3137,0.8158)[-1.0] (0.3152,0.8163)[-3.4] (0.3167,0.8157)[-3.85] (0.3183,0.8162)[-2.2] (0.3199,0.8158)[-1.6] (0.3215,0.8163)[-3.85] (0.3231,0.8157)[-3.4] (0.3246,0.8162)[-2.2] (0.3260,0.8158)[-3.85] (0.3274,0.8163)[-3.4]
(0.2977,0.8143)[-1.6] (0.2996,0.8137)[-3.85] (0.3014,0.8144)[-3.4] (0.3031,0.8138)[-2.2] (0.3047,0.8142)[-1.0] (0.3063,0.8137)[-3.85] (0.3078,0.8143)[-1.6] (0.3093,0.8138)[-2.2] (0.3108,0.8142)[-3.85] (0.3123,0.8137)[-3.4] (0.3138,0.8143)[-2.8] (0.3153,0.8138)[-3.85] (0.3168,0.8142)[-1.0] (0.3184,0.8137)[-3.4] (0.3200,0.8143)[-2.2] (0.3216,0.8138)[-3.85] (0.3232,0.8142)[-1.6] (0.3247,0.8137)[-3.4] (0.3261,0.8143)[-3.85] (0.3274,0.8138)[-2.2]
(0.2982,0.8123)[-3.4] (0.3000,0.8117)[-2.2] (0.3017,0.8124)[-3.85] (0.3034,0.8118)[-1.6] (0.3050,0.8122)[-3.4] (0.3065,0.8117)[-1.0] (0.3080,0.8123)[-3.85] (0.3095,0.8118)[-2.2] (0.3110,0.8122)[-1.6] (0.3125,0.8117)[-3.85] (0.3140,0.8123)[-3.4] (0.3155,0.8118)[-1.0] (0.3170,0.8122)[-2.2] (0.3186,0.8117)[-3.85] (0.3202,0.8123)[-2.8] (0.3218,0.8118)[-3.4] (0.3234,0.8122)[-3.85] (0.3249,0.8117)[-1.6] (0.3263,0.8123)[-3.4] (0.3275,0.8118)[-3.85]
(0.2987,0.8097)[-2.2] (0.3004,0.8103)[-3.85] (0.3020,0.8098)[-1.0] (0.3036,0.8104)[-3.4] (0.3051,0.8097)[-1.6] (0.3066,0.8102)[-3.85] (0.3081,0.8098)[-2.2] (0.3096,0.8103)[-1.0] (0.3111,0.8097)[-3.85] (0.3126,0.8102)[-3.4] (0.3141,0.8098)[-1.6] (0.3156,0.8103)[-2.2] (0.3171,0.8097)[-3.85] (0.3187,0.8102)[-1.0] (0.3203,0.8098)[-3.4] (0.3219,0.8103)[-3.85] (0.3234,0.8097)[-2.2] (0.3249,0.8102)[-3.4] (0.3261,0.8098)[-3.85] (0.3270,0.8103)[-1.6]
(0.2992,0.8083)[-1.6] (0.3009,0.8077)[-3.4] (0.3025,0.8084)[-2.2] (0.3040,0.8078)[-1.0] (0.3055,0.8082)[-3.85] (0.3070,0.8077)[-1.6] (0.3085,0.8083)[-3.4] (0.3100,0.8078)[-1.0] (0.3115,0.8082)[-2.2] (0.3130,0.8077)[-3.85] (0.3145,0.8083)[-1.6] (0.3160,0.8078)[-3.4] (0.3175,0.8082)[-1.0] (0.3191,0.8077)[-3.85] (0.3207,0.8083)[-2.2] (0.3223,0.8078)[-3.4] (0.3238,0.8082)[-3.85] (0.3252,0.8077)[-1.6] (0.3264,0.8083)[-3.4]
(0.2997,0.8057)[-1.0] (0.3014,0.8063)[-2.2] (0.3030,0.8058)[-1.6] (0.3045,0.8064)[-3.85] (0.3060,0.8057)[-1.0] (0.3075,0.8062)[-2.2] (0.3090,0.8058)[-1.6] (0.3105,0.8063)[-3.4] (0.3120,0.8057)[-1.0] (0.3135,0.8062)[-3.85] (0.3150,0.8058)[-1.6] (0.3165,0.8063)[-2.2] (0.3181,0.8057)[-1.0] (0.3197,0.8062)[-3.4] (0.3213,0.8058)[-3.85] (0.3229,0.8063)[-1.6] (0.3244,0.8057)[-3.4] (0.3258,0.8062)[-3.85]
(0.3002,0.8043)[-1.6] (0.3019,0.8037)[-1.0] (0.3035,0.8044)[-2.2] (0.3050,0.8038)[-1.0] (0.3065,0.8042)[-3.4] (0.3080,0.8037)[-1.6] (0.3095,0.8043)[-1.0] (0.3110,0.8038)[-2.2] (0.3125,0.8042)[-1.0] (0.3140,0.8037)[-3.85] (0.3155,0.8043)[-1.6] (0.3170,0.8038)[-1.0] (0.3186,0.8042)[-3.4] (0.3202,0.8037)[-2.2] (0.3218,0.8043)[-3.85] (0.3233,0.8038)[-3.4] (0.3248,0.8042)[-3.85]
(0.3007,0.8017)[-1.0] (0.3024,0.8023)[-1.6] (0.3040,0.8018)[-1.0] (0.3056,0.8024)[-2.2] (0.3071,0.8017)[-1.0] (0.3086,0.8022)[-1.6] (0.3101,0.8018)[-1.0] (0.3116,0.8023)[-3.4] (0.3131,0.8017)[-1.0] (0.3146,0.8022)[-1.6] (0.3162,0.8018)[-2.2] (0.3178,0.8023)[-1.0] (0.3195,0.8017)[-3.85] (0.3215,0.8022)[-3.4] (0.3237,0.8018)[-3.85]
(0.3017,0.7997)[-1.0] (0.3036,0.8003)[-1.6] (0.3054,0.7998)[-1.0] (0.3071,0.8004)[-1.0] (0.3088,0.7997)[-2.2] (0.3105,0.8002)[-1.0] (0.3122,0.7998)[-1.6] (0.3139,0.8003)[-1.0] (0.3157,0.7997)[-1.0] (0.3176,0.8002)[-3.4] (0.3199,0.7998)[-2.2] (0.3226,0.8003)[-3.85]
(0.3027,0.7983)[-1.0] (0.3048,0.7977)[-1.0] (0.3068,0.7984)[-1.6] (0.3088,0.7978)[-1.0] (0.3108,0.7982)[-1.0] (0.3128,0.7977)[-1.6] (0.3150,0.7983)[-1.0] (0.3176,0.7978)[-2.2] (0.3212,0.7982)[-3.4]
(0.3042,0.7963)[-1.0] (0.3068,0.7957)[-1.0] (0.3093,0.7964)[-1.0] (0.3119,0.7958)[-1.0] (0.3147,0.7962)[-1.6] (0.3195,0.7957)[-3.85]
(0.3057,0.7943)[-1.0] (0.3088,0.7937)[-1.0] (0.3120,0.7942)[-1.0] (0.3170,0.7938)[-1.0]
};
\addplot[myscat] coordinates {
(0.2985,0.8387)[-2.2] (0.3016,0.8393)[-3.4] (0.3065,0.8387)[-3.85] (0.3120,0.8393)[-3.4]
(0.2990,0.8367)[-3.85] (0.3035,0.8373)[-2.2] (0.3080,0.8367)[-3.4] (0.3125,0.8373)[-3.85] (0.3170,0.8367)[-2.8]
(0.2975,0.8347)[-3.4] (0.3012,0.8353)[-3.85] (0.3048,0.8347)[-2.2] (0.3082,0.8353)[-3.4] (0.3116,0.8347)[-3.85] (0.3150,0.8353)[-1.6] (0.3186,0.8347)[-3.4]
(0.2972,0.8327)[-3.85] (0.3005,0.8333)[-2.2] (0.3036,0.8327)[-3.4] (0.3066,0.8333)[-2.8] (0.3095,0.8327)[-3.85] (0.3126,0.8333)[-3.4] (0.3158,0.8327)[-2.2] (0.3194,0.8333)[-3.85]
(0.2970,0.8307)[-3.4] (0.3000,0.8313)[-3.85] (0.3028,0.8307)[-1.6] (0.3055,0.8313)[-3.4] (0.3082,0.8307)[-2.2] (0.3108,0.8313)[-3.85] (0.3135,0.8307)[-3.4] (0.3163,0.8313)[-1.0] (0.3190,0.8307)[-3.85] (0.3220,0.8313)[-3.4]
(0.2968,0.8287)[-2.2] (0.2996,0.8293)[-3.4] (0.3023,0.8287)[-3.85] (0.3049,0.8293)[-2.2] (0.3074,0.8287)[-3.4] (0.3099,0.8293)[-3.85] (0.3124,0.8287)[-2.8] (0.3150,0.8293)[-3.4] (0.3178,0.8287)[-3.85] (0.3207,0.8293)[-2.2] (0.3236,0.8287)[-3.4]
(0.2972,0.8267)[-3.4] (0.2997,0.8273)[-3.85] (0.3020,0.8267)[-2.2] (0.3042,0.8273)[-3.4] (0.3064,0.8267)[-1.6] (0.3085,0.8273)[-3.85] (0.3106,0.8267)[-3.4] (0.3127,0.8273)[-2.2] (0.3148,0.8267)[-3.85] (0.3170,0.8273)[-3.4] (0.3193,0.8267)[-2.8] (0.3217,0.8273)[-3.85] (0.3242,0.8267)[-2.2]
(0.2976,0.8247)[-3.85] (0.3000,0.8253)[-2.8] (0.3022,0.8247)[-3.4] (0.3043,0.8253)[-3.85] (0.3063,0.8247)[-2.2] (0.3083,0.8253)[-3.4] (0.3103,0.8247)[-3.85] (0.3124,0.8253)[-1.6] (0.3145,0.8247)[-3.4] (0.3167,0.8253)[-3.85] (0.3190,0.8247)[-2.2] (0.3214,0.8253)[-3.4] (0.3236,0.8247)[-3.85] (0.3256,0.8253)[-1.6]
(0.2980,0.8227)[-2.2] (0.3002,0.8233)[-3.4] (0.3022,0.8227)[-3.85] (0.3042,0.8233)[-1.6] (0.3061,0.8227)[-3.4] (0.3080,0.8233)[-3.85] (0.3099,0.8227)[-2.2] (0.3118,0.8233)[-3.4] (0.3137,0.8227)[-3.85] (0.3157,0.8233)[-1.0] (0.3178,0.8227)[-3.4] (0.3200,0.8233)[-3.85] (0.3222,0.8227)[-2.2] (0.3243,0.8233)[-3.4] (0.3260,0.8227)[-3.85]
(0.2985,0.8207)[-3.85] (0.3005,0.8213)[-2.2] (0.3024,0.8207)[-3.4] (0.3042,0.8213)[-3.85] (0.3060,0.8207)[-1.0] (0.3078,0.8213)[-2.2] (0.3096,0.8207)[-3.85] (0.3114,0.8213)[-3.4] (0.3132,0.8207)[-1.6] (0.3150,0.8213)[-3.85] (0.3168,0.8207)[-2.2] (0.3188,0.8213)[-3.4] (0.3208,0.8207)[-3.85] (0.3227,0.8213)[-2.8] (0.3244,0.8207)[-3.4] (0.3258,0.8213)[-2.2] (0.3268,0.8207)[-3.85]
(0.2986,0.8187)[-3.4] (0.3006,0.8193)[-3.85] (0.3024,0.8187)[-1.6] (0.3041,0.8193)[-3.4] (0.3058,0.8187)[-3.85] (0.3074,0.8193)[-2.2] (0.3090,0.8187)[-3.4] (0.3106,0.8193)[-3.85] (0.3122,0.8187)[-1.0] (0.3138,0.8193)[-2.2] (0.3154,0.8187)[-3.85] (0.3170,0.8193)[-3.4] (0.3187,0.8187)[-1.6] (0.3204,0.8193)[-3.85] (0.3221,0.8187)[-2.2] (0.3237,0.8193)[-3.4] (0.3252,0.8187)[-3.85] (0.3266,0.8193)[-2.8]
(0.2985,0.8167)[-2.2] (0.3004,0.8173)[-3.85] (0.3022,0.8167)[-3.4] (0.3039,0.8173)[-1.6] (0.3055,0.8167)[-3.85] (0.3071,0.8173)[-2.2] (0.3087,0.8167)[-3.4] (0.3103,0.8173)[-3.85] (0.3119,0.8167)[-2.8] (0.3135,0.8173)[-3.4] (0.3151,0.8167)[-1.0] (0.3167,0.8173)[-3.85] (0.3184,0.8167)[-2.2] (0.3201,0.8173)[-3.4] (0.3218,0.8167)[-3.85] (0.3235,0.8173)[-1.6] (0.3251,0.8167)[-3.4] (0.3265,0.8173)[-3.85] (0.3278,0.8167)[-2.2]
(0.2986,0.8147)[-3.85] (0.3004,0.8153)[-1.6] (0.3022,0.8147)[-2.2] (0.3039,0.8153)[-3.85] (0.3055,0.8147)[-3.4] (0.3070,0.8153)[-1.0] (0.3085,0.8147)[-3.85] (0.3100,0.8153)[-2.2] (0.3115,0.8147)[-3.4] (0.3130,0.8153)[-3.85] (0.3145,0.8147)[-1.6] (0.3160,0.8153)[-2.2] (0.3176,0.8147)[-3.85] (0.3192,0.8153)[-3.4] (0.3208,0.8147)[-1.0] (0.3224,0.8153)[-3.85] (0.3240,0.8147)[-2.2] (0.3254,0.8153)[-3.4] (0.3268,0.8147)[-3.85]
(0.2988,0.8127)[-2.2] (0.3006,0.8133)[-3.85] (0.3023,0.8127)[-1.0] (0.3040,0.8133)[-3.4] (0.3056,0.8127)[-3.85] (0.3071,0.8133)[-1.6] (0.3086,0.8127)[-2.2] (0.3101,0.8133)[-3.85] (0.3116,0.8127)[-3.4] (0.3131,0.8133)[-1.0] (0.3146,0.8127)[-3.85] (0.3161,0.8133)[-2.2] (0.3177,0.8127)[-3.4] (0.3193,0.8133)[-3.85] (0.3209,0.8127)[-1.6] (0.3225,0.8133)[-3.4] (0.3240,0.8127)[-3.85] (0.3255,0.8133)[-2.2] (0.3268,0.8127)[-3.4]
(0.2992,0.8107)[-3.85] (0.3010,0.8113)[-1.6] (0.3027,0.8107)[-3.4] (0.3043,0.8113)[-2.2] (0.3058,0.8107)[-1.0] (0.3073,0.8113)[-3.85] (0.3088,0.8107)[-3.4] (0.3103,0.8113)[-1.6] (0.3118,0.8107)[-3.85] (0.3133,0.8113)[-2.2] (0.3148,0.8107)[-1.0] (0.3163,0.8113)[-3.85] (0.3178,0.8107)[-3.4] (0.3195,0.8113)[-2.2] (0.3211,0.8107)[-3.85] (0.3227,0.8113)[-1.6] (0.3242,0.8107)[-3.4] (0.3256,0.8113)[-3.85] (0.3268,0.8107)[-1.0]
(0.2998,0.8087)[-1.0] (0.3016,0.8093)[-3.4] (0.3032,0.8087)[-2.2] (0.3047,0.8093)[-3.85] (0.3062,0.8087)[-1.6] (0.3077,0.8093)[-1.0] (0.3092,0.8087)[-3.85] (0.3107,0.8093)[-2.2] (0.3122,0.8087)[-3.4] (0.3137,0.8093)[-1.6] (0.3152,0.8087)[-3.85] (0.3167,0.8093)[-1.0] (0.3183,0.8087)[-2.2] (0.3199,0.8093)[-3.85] (0.3215,0.8087)[-3.4] (0.3230,0.8093)[-1.6] (0.3245,0.8087)[-3.85] (0.3258,0.8093)[-2.2]
(0.3003,0.8067)[-2.2] (0.3020,0.8073)[-1.0] (0.3036,0.8067)[-3.85] (0.3051,0.8073)[-1.6] (0.3066,0.8067)[-2.2] (0.3081,0.8073)[-1.0] (0.3096,0.8067)[-3.4] (0.3111,0.8073)[-1.6] (0.3126,0.8067)[-3.85] (0.3141,0.8073)[-1.0] (0.3156,0.8067)[-2.2] (0.3172,0.8073)[-1.6] (0.3188,0.8067)[-3.85] (0.3204,0.8073)[-1.0] (0.3220,0.8067)[-3.4] (0.3236,0.8073)[-2.2] (0.3250,0.8067)[-3.85]
(0.3008,0.8047)[-1.6] (0.3025,0.8053)[-1.0] (0.3041,0.8047)[-2.2] (0.3056,0.8053)[-1.0] (0.3071,0.8047)[-3.4] (0.3086,0.8053)[-1.6] (0.3101,0.8047)[-1.0] (0.3116,0.8053)[-3.85] (0.3131,0.8047)[-1.6] (0.3146,0.8053)[-1.0] (0.3162,0.8047)[-2.2] (0.3178,0.8053)[-1.0] (0.3194,0.8047)[-3.4] (0.3210,0.8053)[-1.6] (0.3226,0.8047)[-3.85] (0.3242,0.8053)[-2.2]
(0.3012,0.8027)[-1.0] (0.3030,0.8033)[-1.6] (0.3046,0.8027)[-1.0] (0.3062,0.8033)[-2.2] (0.3077,0.8027)[-1.0] (0.3092,0.8033)[-1.6] (0.3107,0.8027)[-1.0] (0.3122,0.8033)[-3.4] (0.3138,0.8027)[-1.0] (0.3154,0.8033)[-1.6] (0.3170,0.8027)[-1.0] (0.3188,0.8033)[-2.2] (0.3208,0.8027)[-3.85] (0.3228,0.8033)[-3.4]
(0.3020,0.8007)[-1.0] (0.3040,0.8013)[-1.6] (0.3058,0.8007)[-1.0] (0.3076,0.8013)[-1.0] (0.3093,0.8007)[-1.6] (0.3110,0.8013)[-1.0] (0.3128,0.8007)[-2.2] (0.3146,0.8013)[-1.0] (0.3165,0.8007)[-1.6] (0.3186,0.8013)[-1.0] (0.3208,0.8007)[-3.4] (0.3232,0.8013)[-2.2]
(0.3032,0.7987)[-1.0] (0.3055,0.7993)[-1.0] (0.3077,0.7987)[-1.6] (0.3098,0.7993)[-1.0] (0.3118,0.7987)[-1.0] (0.3140,0.7993)[-1.6] (0.3163,0.7987)[-1.0] (0.3190,0.7993)[-2.2] (0.3218,0.7987)[-3.85]
(0.3050,0.7967)[-1.0] (0.3080,0.7973)[-1.0] (0.3106,0.7967)[-1.6] (0.3133,0.7973)[-1.0] (0.3162,0.7967)[-1.0] (0.3200,0.7973)[-3.4]
};
\addplot[draw=agreen, line width=1.3pt, smooth, mark=none] coordinates {
(0.29248,0.82316) (0.29256,0.82891) (0.29367,0.83448) (0.29644,0.83925) (0.30000,0.84213) (0.30395,0.84253)
(0.30830,0.84172) (0.31225,0.84023) (0.31620,0.83828) (0.32017,0.83448) (0.32412,0.82678) (0.32728,0.81724)
(0.32966,0.80575) (0.33025,0.79805) (0.32966,0.79138) (0.32728,0.78563) (0.32491,0.78080) (0.32214,0.77701)
(0.31976,0.77126) (0.31819,0.76552) (0.31700,0.76052) (0.31620,0.75908) (0.31423,0.75592) (0.31225,0.75305)
(0.31068,0.75494) (0.30830,0.75782) (0.30593,0.76138) (0.30434,0.76839) (0.30276,0.77218) (0.30119,0.77989)
(0.29921,0.78943) (0.29684,0.79902) (0.29485,0.80667) (0.29327,0.81437) (0.29248,0.82316)};
\addplot[draw=agreen, line width=1.3pt, smooth, mark=none] coordinates {
(0.29960,0.81816) (0.30039,0.82489) (0.30356,0.82874) (0.30751,0.83023) (0.31225,0.82966) (0.31620,0.82776)
(0.31937,0.82201) (0.32135,0.81529) (0.32174,0.80954) (0.32135,0.80379) (0.31976,0.79805) (0.31700,0.79517)
(0.31383,0.79328) (0.30988,0.79328) (0.30671,0.79615) (0.30356,0.80000) (0.30119,0.80575) (0.29980,0.81241)
(0.29960,0.81816)};
\addplot[draw=black, line width=1.3pt, smooth, mark=none] coordinates {
(0.29743,0.80764) (0.29822,0.81339) (0.30039,0.81914) (0.30434,0.82391) (0.30830,0.82586) (0.31225,0.82586)
(0.31620,0.82529) (0.32017,0.82391) (0.32332,0.82011) (0.32491,0.81437) (0.32471,0.81052) (0.32332,0.80764)
(0.32017,0.80477) (0.31620,0.80190) (0.31225,0.79902) (0.30830,0.79713) (0.30434,0.79713) (0.30039,0.80000)
(0.29802,0.80379) (0.29743,0.80764)};
\addplot[draw=black, line width=1.3pt, smooth, mark=none] coordinates {
(0.30256,0.80954) (0.30356,0.81437) (0.30632,0.81759) (0.31027,0.81954) (0.31423,0.81954) (0.31739,0.81816)
(0.31937,0.81339) (0.31917,0.80954) (0.31700,0.80575) (0.31305,0.80345) (0.30909,0.80230) (0.30514,0.80345)
(0.30316,0.80609) (0.30256,0.80954)};
\node[anchor=base west, inner sep=0pt, text=agreen, font=\fontsize{14.5}{17}\selectfont] at (rel axis cs:0.1008,0.1547) {$\alpha${\dejavu CDM}};
\node[anchor=base west, inner sep=0pt, text=black, font=\fontsize{14.5}{17}\selectfont] at (rel axis cs:0.1008,0.0846) {$\Lambda${\dejavu CDM}};
\end{axis}
\end{tikzpicture}
\end{document}
